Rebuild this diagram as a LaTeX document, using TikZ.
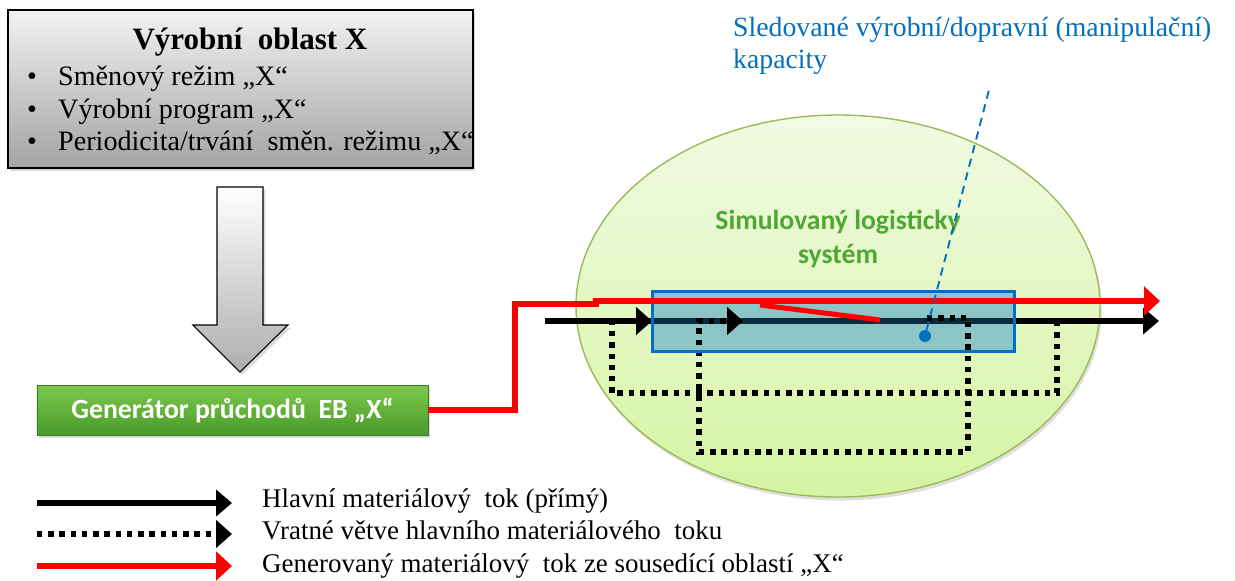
\documentclass[tikz,border=0pt]{standalone}
\usepackage{fontspec}
\setmainfont{Liberation Serif}
\newfontfamily\labelsans{Carlito}
\usetikzlibrary{arrows.meta,shadows,fit,shapes.geometric}

\definecolor{capblue}{HTML}{0070C0}
\definecolor{capfill}{HTML}{8CC5C5}
\definecolor{flowred}{HTML}{FF0000}
\definecolor{simgreen}{HTML}{4EA833}
\definecolor{zoneedge}{HTML}{9BBB59}
\definecolor{zonetop}{HTML}{F1FAE3}
\definecolor{zonebottom}{HTML}{D6F4A3}
\definecolor{navyline}{HTML}{0B2B3D}
\definecolor{gentop}{HTML}{7CC94C}
\definecolor{genbottom}{HTML}{4A9A2B}

\tikzset{
  softshadow/.style={drop shadow={opacity=0.3, shadow xshift=2pt, shadow yshift=-2.5pt}},
  regionbox/.style={draw=black, line width=1.2pt, top color=black!5, bottom color=black!36,
    inner sep=0pt, minimum width=13.95cm, minimum height=4.74cm, softshadow},
  titletext/.style={inner sep=0pt, anchor=base, font=\fontsize{26.5}{30}\selectfont\bfseries},
  itemtext/.style={inner sep=0pt, anchor=base west, font=\fontsize{24}{28}\selectfont},
  genbox/.style={top color=gentop, bottom color=genbottom, draw=genbottom!80!black, line width=0.4pt,
    inner sep=0pt, minimum width=11.73cm, minimum height=1.5cm, text=white,
    font=\labelsans\fontsize{23.7}{27}\selectfont\bfseries, softshadow},
  zone/.style={ellipse, draw=zoneedge, line width=1.2pt, top color=zonetop, bottom color=zonebottom,
    inner sep=0pt, minimum width=15.72cm, minimum height=11.46cm,
    drop shadow={opacity=0.25, shadow xshift=1.5pt, shadow yshift=-3pt}},
  simtext/.style={inner sep=0pt, anchor=base, text=simgreen,
    font=\labelsans\fontsize{23.6}{27}\selectfont\bfseries},
  capbox/.style={fill=capfill, inner sep=0pt, minimum width=10.83cm, minimum height=1.77cm},
  capedge/.style={draw=capblue, line width=2.6pt},
  flowline/.style={line width=4.7pt, line cap=butt},
  mainflow/.style={flowline, black, -{Triangle[length=13.5pt,width=22pt]}},
  returnflow/.style={line width=4.4pt, black, dash pattern=on 4.6pt off 5pt,
    -{Triangle[length=13.5pt,width=23pt]}},
  genflow/.style={line width=4.3pt, flowred, -{Triangle[length=13.5pt,width=24pt]}},
  probeline/.style={capblue, line width=1.6pt, dash pattern=on 7pt off 5pt},
  notetext/.style={inner sep=0pt, anchor=base west, text=capblue, font=\fontsize{23.7}{27}\selectfont},
  legendtext/.style={inner sep=0pt, anchor=base west, font=\fontsize{23}{27}\selectfont},
}

\begin{document}
\begin{tikzpicture}[x=0.03cm, y=-0.03cm]
\useasboundingbox (0,0) rectangle (1235,580);

% production region with its parameters
\node[regionbox] (region) at (240.5,89) {};
\node[titletext] (regtitle) at (250,49) {Výrobní\ \ oblast X};
\node[itemtext] (b1) at (27,85) {•};
\node[itemtext] (i1) at (58,85) {Směnový režim „X“};
\node[itemtext] (b2) at (27,118) {•};
\node[itemtext] (i2) at (58,118) {Výrobní program „X“};
\node[itemtext] (b3) at (27,150) {•};
\node[itemtext] (i3) at (58,150) {Periodicita/trvání\ \ směn. režimu „X“};

% block arrow down to the generator
\draw[line width=0.9pt, top color=white, bottom color=black!32, softshadow]
  (217,187) -- (263,187) -- (263,325) -- (288,325) -- (240,372) -- (193,325) -- (217,325) -- cycle;

% generator of passages
\node[genbox] (gen) at (232.5,410) {Generátor průchodů\ \ EB „X“};

% simulated logistic system
\node[zone] (zone) at (838,306) {};
\node[simtext] (sim1) at (838,229) {Simulovaný logisticky};
\node[simtext] (sim2) at (838,263) {systém};

% observed capacities
\node[capbox] (cap) at (833.5,321.5) {};

\coordinate (mainstart) at (545,321);
\coordinate (mainend) at (1159,321);
\draw[flowline, black] (mainstart) -- (cap.west |- mainstart);
\draw[flowline, navyline] (cap.west |- mainstart) -- (cap.east |- mainstart);
\draw[mainflow] (cap.east |- mainstart) -- (mainend);

% return branches
\coordinate (ret1end) at (652,321);
\coordinate (ret2end) at (743,321);
\draw[returnflow] (1057,321) -- (1057,393) -- (612,393) -- (612,321) -- (ret1end);
\draw[returnflow] (927,318) -- (968,318) -- (968,452) -- (699,452) -- (699,321) -- (ret2end);

\draw[capedge] (cap.south west) rectangle (cap.north east);

% generated flow from the neighbouring region
\coordinate (redend) at (1160,301);
\draw[genflow] (gen.east) -| (515,304) -- (596,304) -- (596,301) -- (redend);
\draw[line width=4.3pt, flowred] (760,305) -- (880,320);

% observed point and its note
\node[circle, fill=capblue, inner sep=0pt, minimum size=0.36cm] (probe) at (925,336) {};
\coordinate (probetop) at (990,86);
\draw[probeline] (probe) -- (probetop);
\node[notetext] (note1) at (733,36) {Sledované výrobní/dopravní (manipulační)};
\node[notetext] (note2) at (733,68) {kapacity};

% legend
\coordinate (l1s) at (37,503); \coordinate (l1e) at (232,503);
\coordinate (l2s) at (37,534); \coordinate (l2e) at (232,534);
\coordinate (l3s) at (37,566); \coordinate (l3e) at (232,566);
\draw[mainflow] (l1s) -- (l1e);
\draw[returnflow] (l2s) -- (l2e);
\draw[genflow] (l3s) -- (l3e);
\node[legendtext] (t1) at (262,507) {Hlavní materiálový\ \ tok (přímý)};
\node[legendtext] (t2) at (262,539) {Vratné větve hlavního materiálového\ \ toku};
\node[legendtext] (t3) at (262,572) {Generovaný materiálový\ \ tok ze sousedící oblastí „X“};
\end{tikzpicture}
\end{document}
